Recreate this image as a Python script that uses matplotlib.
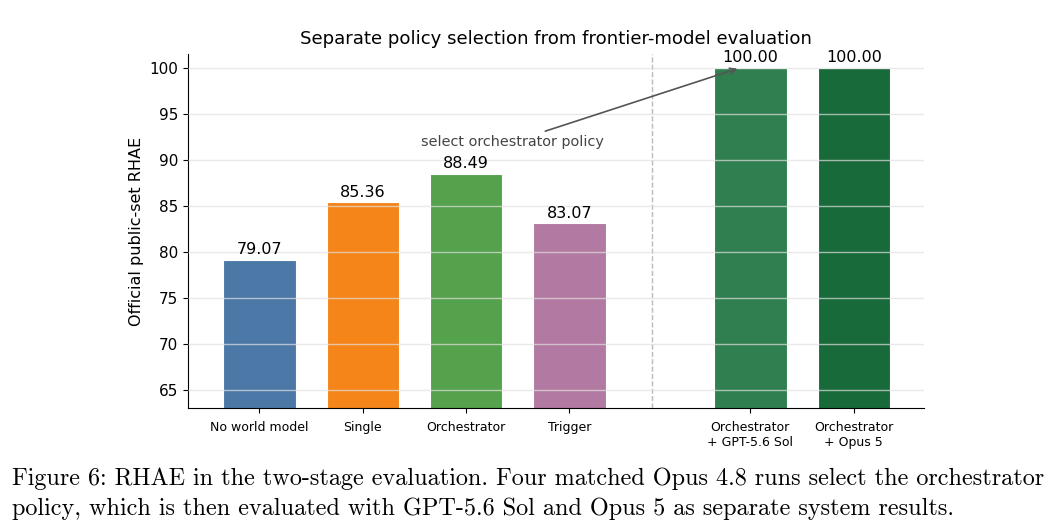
import matplotlib
matplotlib.use("Agg")
import matplotlib.pyplot as plt

# -----------------------------
# Data
# -----------------------------
labels = ["No world model", "Single", "Orchestrator", "Trigger",
          "Orchestrator\n+ GPT-5.6 Sol", "Orchestrator\n+ Opus 5"]
values = [79.07, 85.36, 88.49, 83.07, 100.00, 100.00]
positions = [0, 1, 2, 3, 4.75, 5.75]
colors = ["#4c78a8", "#f58518", "#54a24b", "#b279a2", "#2f7f50", "#186a3b"]
yticks = [65, 70, 75, 80, 85, 90, 95, 100]

caption = ("Figure 6: RHAE in the two-stage evaluation. Four matched Opus 4.8 runs select the orchestrator\n"
           "policy, which is then evaluated with GPT-5.6 Sol and Opus 5 as separate system results.")

# -----------------------------
# Figure
# -----------------------------
fig = plt.figure(figsize=(10.55, 5.27), dpi=100)
ax = fig.add_axes([188 / 1055, 1 - 408 / 527, (924 - 188) / 1055, (408 - 54) / 527])

ax.bar(positions, values, width=0.7, color=colors, edgecolor="white", linewidth=0.8, zorder=2)

for x, v in zip(positions, values):
    ax.annotate(f"{v:.2f}", (x, v), xytext=(0, 2), textcoords="offset points",
                ha="center", va="bottom", fontsize=11.5)

# divider between the two stages
ax.axvline(3.8, color="#bbbbbb", linestyle="--", linewidth=1, zorder=1)

ax.annotate("select orchestrator policy", xy=(4.65, 100), xytext=(2.45, 91.95),
            ha="center", va="center", fontsize=10.4, color="#444444",
            arrowprops=dict(arrowstyle="->", color="#555555", lw=1.2))

ax.set_ylim(63, 101.5)
ax.set_xlim(-0.69, 6.43)
ax.set_yticks(yticks)
ax.set_xticks(positions)
ax.set_xticklabels(labels, fontsize=9)
ax.tick_params(axis="x", pad=6)
ax.tick_params(axis="y", labelsize=11)
ax.set_ylabel("Official public-set RHAE", fontsize=11.5)
ax.set_title("Separate policy selection from frontier-model evaluation", fontsize=13.1, pad=7)

ax.grid(axis="y", color="#e0e0e0", alpha=0.7, linewidth=1, zorder=3)
ax.set_axisbelow(False)
ax.spines["top"].set_visible(False)
ax.spines["right"].set_visible(False)

fig.text(12 / 1055, 1 - 468 / 527, caption, fontsize=17.4, family="cmr10",
         va="top", ha="left", linespacing=1.4)

fig.savefig("out.png", dpi=100)
